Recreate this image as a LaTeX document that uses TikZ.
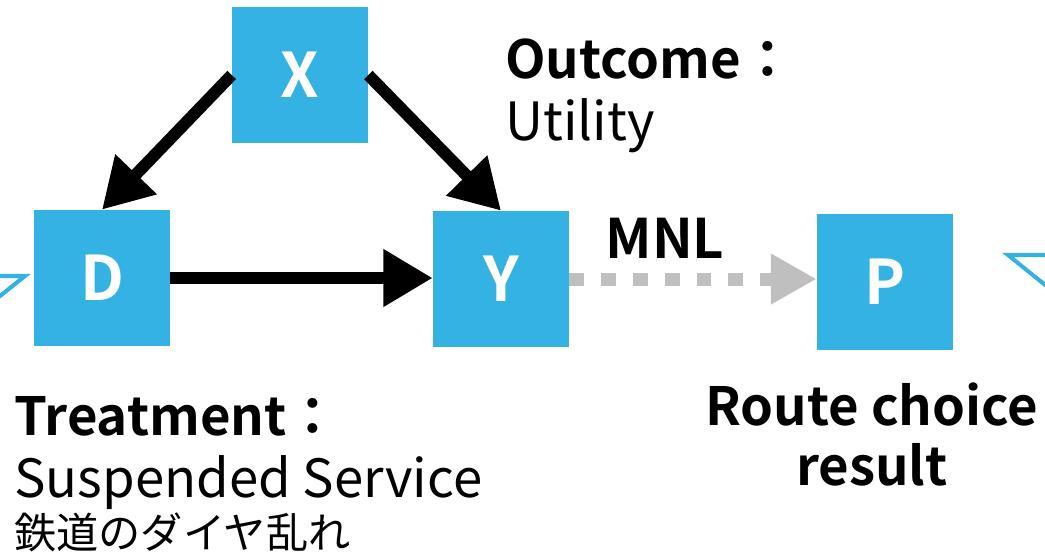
\documentclass[tikz,border=0pt]{standalone}
\usepackage{fontspec}
\setmainfont{Noto Sans CJK JP}[BoldFont={Noto Sans CJK JP Bold}]
\usetikzlibrary{arrows.meta}

\definecolor{boxblue}{RGB}{53,178,228}
\definecolor{mnlgray}{RGB}{191,191,191}

\tikzset{
  var/.style={fill=boxblue, minimum size=2.72cm, inner sep=0pt, text=white,
    font=\fontsize{35}{40}\selectfont\bfseries},
  causal/.style={line width=6.8pt, -{Triangle[length=28pt,width=31pt]}},
  model/.style={draw=mnlgray, line width=7.4pt, dash pattern=on 8.5pt off 9.6pt,
    -{Triangle[length=26pt,width=27pt,fill=mnlgray]}},
  head/.style={font=\fontsize{30}{36}\selectfont\bfseries, anchor=base west, inner sep=0pt},
  desc/.style={font=\fontsize{30}{36}\selectfont, anchor=base west, inner sep=0pt},
  edge tri/.style={draw=boxblue, line width=2.3pt, line join=miter},
}

\begin{document}
\begin{tikzpicture}[x=0.02cm, y=-0.02cm]
\useasboundingbox (0,0) rectangle (1045,559);
\clip (0,0) rectangle (1045,559);

% variables
\node [var] (X) at (300,75) {X};
\node [var] (D) at (102,278) {D};
\node [var] (Y) at (501,279) {Y};
\node [var] (P) at (885,282) {P};

% causal graph
\draw [causal] (X.west) -- (D.north);
\draw [causal] (X.east) -- (Y.north);
\draw [causal] (D.east) -- (D.east -| Y.west);
\draw [model] (Y.east) -- (Y.east -| P.west);
\node [font=\fontsize{31}{36}\selectfont\bfseries, anchor=base] (mnl) at (665,258) {MNL};

% labels
\node [head] (outcome) at (505,78) {Outcome：};
\node [desc] (utility) at (505,140) {Utility};
\node [head] (treat) at (14,435) {Treatment：};
\node [desc] (susp) at (14,497) {Suspended Service};
\node [desc, font=\fontsize{24}{28}\selectfont] (susp jp) at (14,548) {鉄道のダイヤ乱れ};
\node [head, anchor=base] (route) at (872,425) {Route choice};
\node [head, anchor=base] (result) at (872,485) {result};

% triangles cut by the border
\draw [edge tri] (-40,276) -- (25,276) -- (-20,312) -- cycle;
\draw [edge tri] (1008,255) -- (1095,255) -- (1070,305) -- cycle;
\end{tikzpicture}
\end{document}
